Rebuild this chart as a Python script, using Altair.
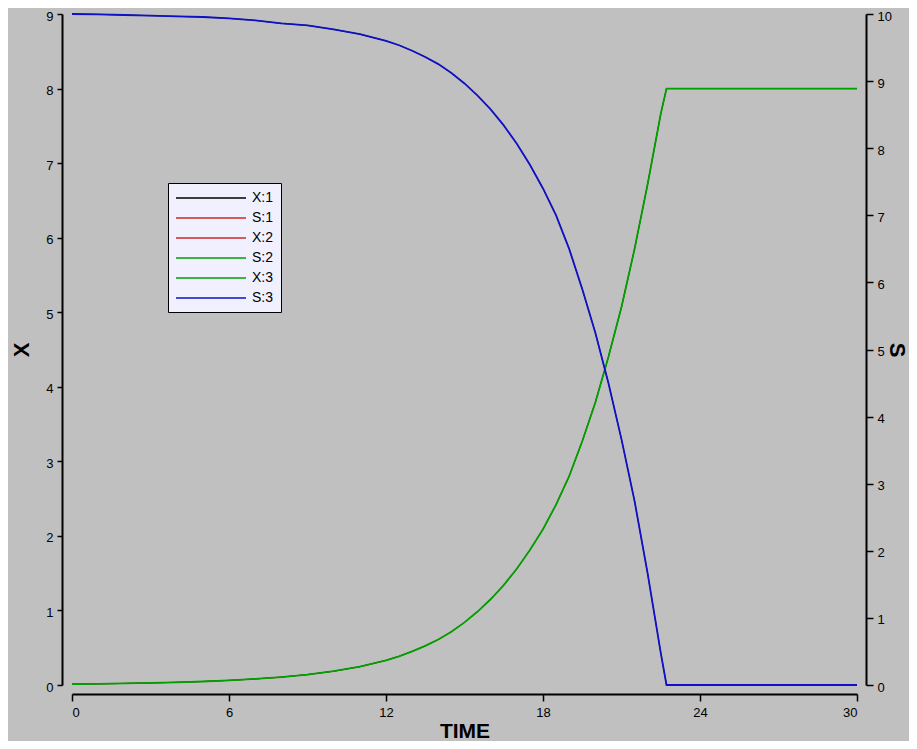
import altair as alt
import pandas as pd

# ---- data ----
time = [0, 1, 2, 3, 4, 5, 6, 7, 8, 9, 10, 11, 12, 12.5, 13, 13.5, 14, 14.5,
        15, 15.5, 16, 16.5, 17, 17.5, 18, 18.5, 19, 19.5, 20, 20.5, 21, 21.5,
        22, 22.5, 22.72, 30]
x_values = [0.012, 0.016, 0.021, 0.028, 0.036, 0.047, 0.062, 0.081, 0.106,
            0.14, 0.185, 0.245, 0.33, 0.385, 0.45, 0.525, 0.61, 0.715,
            0.84, 0.985, 1.15, 1.34, 1.56, 1.81, 2.09, 2.42, 2.80, 3.27,
            3.79, 4.40, 5.07, 5.85, 6.72, 7.66, 8.0, 8.0]
s_values = [10.0, 9.995, 9.985, 9.975, 9.965, 9.955, 9.935, 9.905, 9.86, 9.83,
            9.77, 9.70, 9.60, 9.534, 9.453, 9.359, 9.253, 9.121,
            8.965, 8.784, 8.578, 8.34, 8.065, 7.753, 7.40, 7.00, 6.50, 5.90,
            5.25, 4.50, 3.66, 2.74, 1.66, 0.48, 0.0, 0.0]

series_names = ["X:1", "S:1", "X:2", "S:2", "X:3", "S:3"]
series_colors = ["#000000", "#D02828", "#D02828", "#00A000", "#00A000", "#1010C8"]
x_hidden = ["X:1", "X:2"]
s_hidden = ["S:1", "S:2"]
x_top = ["X:3"]
s_top = ["S:3"]
x_ticks = [0, 6, 12, 18, 24, 30]
left_ticks = list(range(0, 10))
right_ticks = list(range(0, 11))


def frame(names, values):
    return pd.DataFrame([{"t": t, "v": v, "series": s}
                         for s in names for t, v in zip(time, values)])


FONT = "Liberation Sans"

color = alt.Color(
    "series:N",
    scale=alt.Scale(domain=series_names, range=series_colors),
    legend=alt.Legend(
        orient="none", legendX=96, legendY=169, title=None,
        symbolType="M-1,0H9", symbolSize=196, symbolStrokeWidth=1.5,
        fillColor="#F0F0FF", strokeColor="#000000",
        padding=7, labelFont=FONT, labelFontSize=14, labelColor="#000000",
        labelOffset=61, rowPadding=5,
    ),
)

x_enc = alt.X(
    "t:Q",
    scale=alt.Scale(domain=[0, 30], nice=False, zero=False),
    axis=alt.Axis(values=x_ticks, title="TIME", offset=9, tickSize=7,
                  titleFontSize=21, titlePadding=1, labelPadding=5),
)

y_left = alt.Y("v:Q", scale=alt.Scale(domain=[0, 9], nice=False),
               axis=alt.Axis(orient="left", values=left_ticks, title="X", offset=10,
                             tickSize=5, titleFontSize=22, titlePadding=12,
                             labelPadding=4, labelOffset=2))
y_right = alt.Y("v:Q", scale=alt.Scale(domain=[0, 10], nice=False),
                axis=alt.Axis(orient="right", values=right_ticks, title="S", offset=9,
                              tickSize=7, titleFontSize=22, titlePadding=-7,
                              labelPadding=4, labelOffset=2))


def lines(df, y, width):
    return alt.Chart(df).mark_line(strokeWidth=width).encode(
        x=x_enc, y=y, color=color, order=alt.Order("t:Q"))


left = alt.layer(lines(frame(x_hidden, x_values), y_left, 1),
                 lines(frame(x_top, x_values), y_left, 1.8))
right = alt.layer(lines(frame(s_hidden, s_values), y_right, 1),
                  lines(frame(s_top, s_values), y_right, 1.8))

chart = (
    alt.layer(left, right)
    .resolve_scale(y="independent")
    .properties(
        width=785, height=671,
        autosize=alt.AutoSizeParams(type="none"),
        padding={"left": 64, "top": 6, "right": 52, "bottom": 56},
        background="#C0C0C0",
    )
    .configure_view(stroke=None)
    .configure_axis(
        grid=False, domainColor="#000000", domainWidth=2, tickColor="#000000",
        tickWidth=1.5, labelFont=FONT, labelFontSize=13, labelColor="#000000",
        titleFont=FONT, titleFontWeight="bold", titleColor="#000000",
    )
)

chart.save("out.html", embed_options={"renderer": "svg", "actions": False})
